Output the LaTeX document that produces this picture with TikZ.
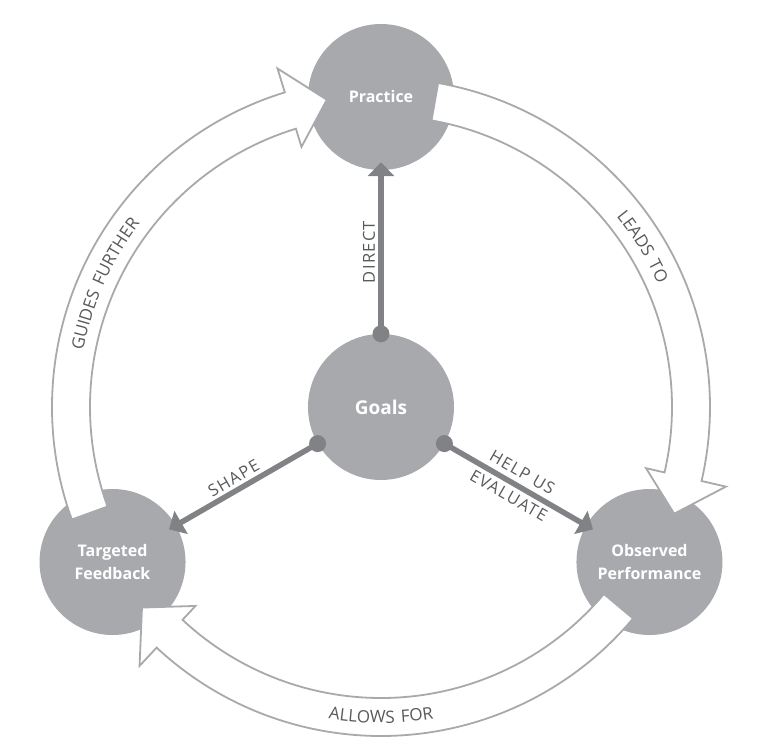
\documentclass[tikz,border=0pt]{standalone}
\usepackage{fontspec}
\setmainfont{Open Sans}
\newfontfamily\labelfont[LetterSpace=8]{Open Sans}
\newfontfamily\cyclefont[LetterSpace=12]{Open Sans}
\usetikzlibrary{arrows.meta,decorations.text}
\definecolor{stagegray}{HTML}{A7A9AC}
\definecolor{bandgray}{HTML}{A7A9AC}
\definecolor{linkgray}{HTML}{808285}
\definecolor{labelgray}{HTML}{58595B}
\tikzstyle{stage}=[circle, fill=stagegray, minimum size=146pt, inner sep=0pt,
    text=white, align=center, font=\bfseries\fontsize{16}{23.5}\selectfont]
\tikzstyle{cycle band}=[draw=bandgray, line width=1.8pt, fill=white]
\tikzstyle{link}=[draw=linkgray, line width=5.5pt,
    -{Triangle[length=14pt,width=26pt]}, shorten >=-8pt]
\tikzstyle{link label}=[text=labelgray, font=\labelfont\fontsize{16.5}{19}\selectfont]
\newcommand{\cyclearrow}[1]{%
    \draw[cycle band] (#1:329) arc[start angle=#1, end angle={#1-93}, radius=329]
        -- ({#1-93}:354) -- ({#1-100}:312) -- ({#1-93}:272) -- ({#1-93}:291)
        arc[start angle={#1-93}, end angle=#1, radius=291] -- cycle;}
\newcommand{\cyclelabel}[4]{% from, to, radius, text
    \path[decorate, decoration={text along path, text align=center,
        text={|\cyclefont\fontsize{17}{20}\selectfont\color{labelgray}|#4}}]
        (#1:#3) arc[start angle=#1, end angle=#2, radius=#3];}

\begin{document}
\begin{tikzpicture}[x=1pt, y=1pt]
    \useasboundingbox (-381,-338) rectangle (395,407);

    \node[stage, font=\bfseries\fontsize{19}{23}\selectfont] (goals) at (0,0) {Goals};
    \node[stage] (practice) at (90:310) {Practice};
    \node[stage] (feedback) at (210:310) {Targeted\\Feedback};
    \node[stage] (performance) at (330:310) {Observed\\Performance};

    % the outer cycle
    \cyclearrow{200}
    \cyclearrow{80}
    \cyclearrow{-40}
    \cyclelabel{188}{124}{303}{GUIDES FURTHER}
    \cyclelabel{62}{1}{303}{LEADS TO}
    \cyclelabel{-122}{-58}{316}{ALLOWS FOR}

    \draw[link] (goals.90) -- (practice)
        node[midway, above, sloped, link label] {DIRECT};
    \draw[link] (goals.210) -- (feedback)
        node[pos=0.55, above, sloped, link label] {SHAPE};
    \draw[link] (goals.330) -- (performance)
        node[midway, above=2pt, sloped, link label] {HELP US}
        node[midway, below=1pt, sloped, link label] {EVALUATE};
    \foreach \a in {90,210,330}
        \fill[linkgray] (goals.\a) circle (8.5pt);
\end{tikzpicture}
\end{document}
